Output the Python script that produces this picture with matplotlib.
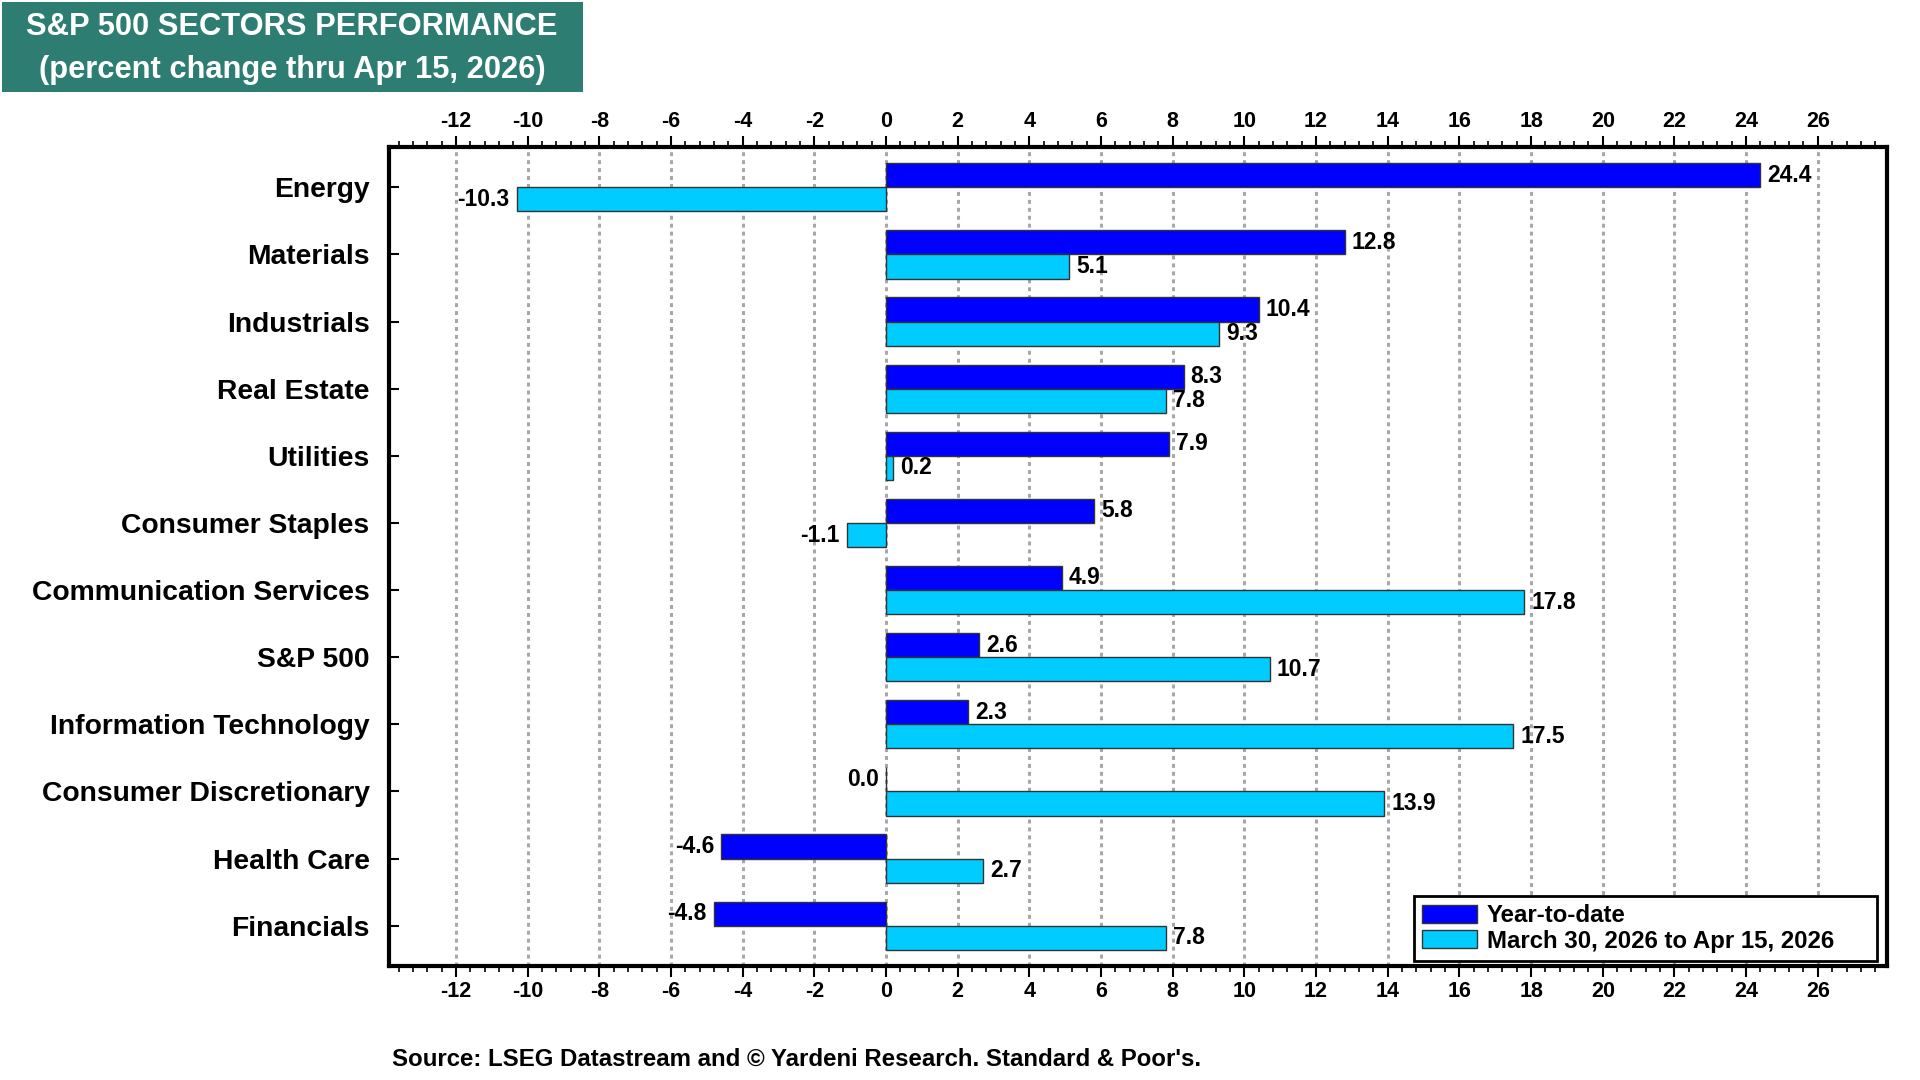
import numpy as np
import matplotlib.pyplot as plt
from matplotlib.patches import Rectangle
from matplotlib.ticker import MultipleLocator

plt.rcParams['font.family'] = ['Liberation Sans', 'DejaVu Sans']
plt.rcParams['font.weight'] = 'bold'
plt.rcParams['axes.unicode_minus'] = False

# --- data ---
sectors = ["Energy", "Materials", "Industrials", "Real Estate", "Utilities",
           "Consumer Staples", "Communication Services", "S&P 500",
           "Information Technology", "Consumer Discretionary", "Health Care",
           "Financials"]
ytd = [24.4, 12.8, 10.4, 8.3, 7.9, 5.8, 4.9, 2.6, 2.3, 0.0, -4.6, -4.8]
period = [-10.3, 5.1, 9.3, 7.8, 0.2, -1.1, 17.8, 10.7, 17.5, 13.9, 2.7, 7.8]
ytd_label = "Year-to-date"
period_label = "March 30, 2026 to Apr 15, 2026"
title_lines = ["S&P 500 SECTORS PERFORMANCE", "(percent change thru Apr 15, 2026)"]
source = "Source: LSEG Datastream and \u00a9 Yardeni Research. Standard & Poor's."

dark = "#0000FF"
light = "#00CCFF"

fig = plt.figure(figsize=(19.2, 10.8), dpi=100)
ax = fig.add_axes([389 / 1920, 1 - 966 / 1080, 1498 / 1920, 819 / 1080])

y = np.arange(len(sectors))
h = 0.36
ax.barh(y - h / 2, ytd, height=h, color=dark, edgecolor="#333333", linewidth=1,
        label=ytd_label, zorder=3)
ax.barh(y + h / 2, period, height=h, color=light, edgecolor="#333333", linewidth=1,
        label=period_label, zorder=3)

# value labels
for yy, v in zip(y, ytd):
    if v > 0:
        ax.text(v + 0.2, yy - h / 2, f"{v:.1f}", ha="left", va="center", fontsize=16.5, zorder=4)
    else:
        ax.text(v - 0.2, yy - h / 2, f"{v:.1f}", ha="right", va="center", fontsize=16.5, zorder=4)
for yy, v in zip(y, period):
    if v > 0:
        ax.text(v + 0.2, yy + h / 2, f"{v:.1f}", ha="left", va="center", fontsize=16.5, zorder=4)
    else:
        ax.text(v - 0.2, yy + h / 2, f"{v:.1f}", ha="right", va="center", fontsize=16.5, zorder=4)

ax.set_xlim(-13.87, 27.93)
ax.set_ylim(11.6, -0.6)
ax.set_xticks(np.arange(-12, 27, 2))
ax.xaxis.set_minor_locator(MultipleLocator(0.4))
ax.set_yticks(y)
ax.set_yticklabels(sectors, fontsize=20.3)

ax.tick_params(axis="x", which="both", top=True, labeltop=True, bottom=True,
               labelbottom=True, direction="out", labelsize=15.5, width=1.5, pad=3)
ax.tick_params(axis="x", which="major", length=8)
ax.tick_params(axis="x", which="minor", length=4, width=1.2)
ax.tick_params(axis="y", direction="in", length=7, width=1.5, pad=14)

ax.grid(axis="x", which="major", color="#A8A8A8", linestyle=(0, (1.3, 1.3)),
        linewidth=2.2, zorder=0)
for s in ax.spines.values():
    s.set_linewidth(3)
    s.set_color("black")

leg = ax.legend(loc="lower left", bbox_to_anchor=(0.684, 0.006, 0.309, 0.08),
                mode="expand", borderaxespad=0,
                fontsize=17.3, handlelength=2.3, handleheight=0.75, handletextpad=0.4,
                labelspacing=0.1, borderpad=0.35, fancybox=False, framealpha=1)
leg.get_frame().set_edgecolor("black")
leg.get_frame().set_linewidth(2)

# title box
fig.patches.append(Rectangle((2 / 1920, 1 - 92 / 1080), 581 / 1920, 90 / 1080,
                             transform=fig.transFigure, facecolor="#2E7D72",
                             edgecolor="none", zorder=0))
fig.text(292 / 1920, 1 - 35 / 1080, title_lines[0], color="white", fontsize=22.2,
         ha="center", va="baseline")
fig.text(292 / 1920, 1 - 78 / 1080, title_lines[1], color="white", fontsize=22.2,
         ha="center", va="baseline")

fig.text(392 / 1920, 1 - 1059 / 1080, source, fontsize=17.3, ha="left", va="center")

fig.savefig("out.png", dpi=100)
